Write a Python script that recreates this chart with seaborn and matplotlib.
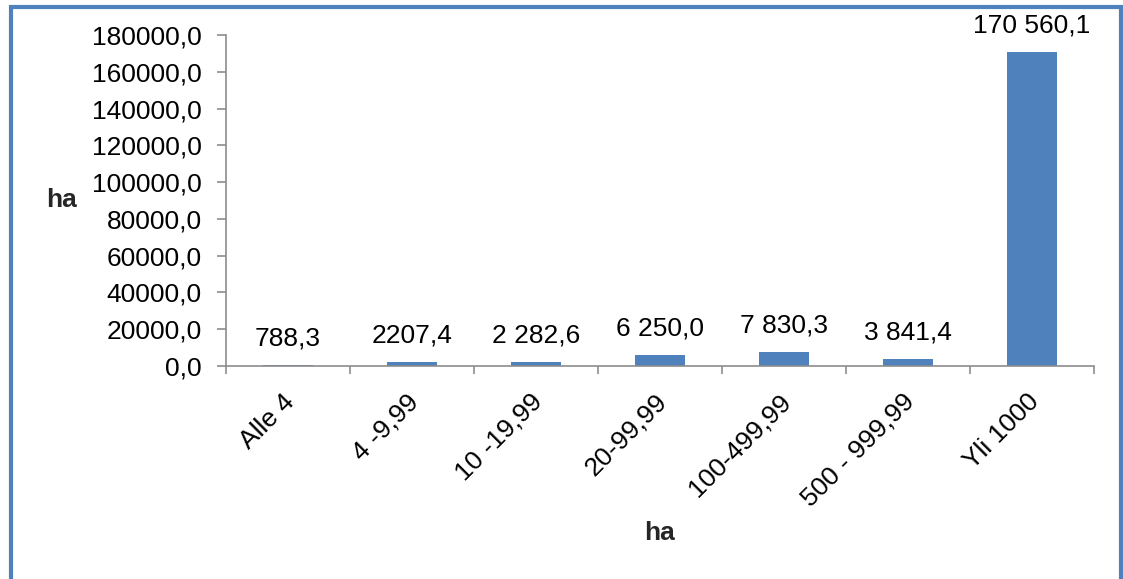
import matplotlib
matplotlib.use("Agg")
import matplotlib.pyplot as plt
import matplotlib.transforms as mtransforms
import seaborn as sns
import pandas as pd
from matplotlib.patches import Rectangle
from matplotlib.ticker import FuncFormatter, FixedLocator

# Data
categories = ["Alle 4", "4 -9,99", "10 -19,99", "20-99,99", "100-499,99", "500 - 999,99", "Yli 1000"]
values = [788.3, 2207.4, 2282.6, 6250.0, 7830.3, 3841.4, 170560.1]
value_labels = ["788,3", "2207,4", "2 282,6", "6 250,0", "7 830,3", "3 841,4", "170 560,1"]
y_ticks = [0, 20000, 40000, 60000, 80000, 100000, 120000, 140000, 160000, 180000]

df = pd.DataFrame({"luokka": categories, "ala": values})

sns.set_style("white")
plt.rcParams["font.family"] = ["Liberation Sans", "DejaVu Sans"]
plt.rcParams["text.color"] = "black"
plt.rcParams["xtick.labelcolor"] = "black"
plt.rcParams["ytick.labelcolor"] = "black"

FS = 19

fig = plt.figure(figsize=(11.23, 5.79), dpi=100)
ax = fig.add_axes([226 / 1123, 1 - 366 / 579, (1094 - 226) / 1123, (366 - 35) / 579])

sns.barplot(data=df, x="luokka", y="ala", color="#4F81BD", saturation=1, width=0.4,
            linewidth=0, ax=ax)

# value labels above bars
for i, (v, lab) in enumerate(zip(values, value_labels)):
    ax.annotate(lab, (i, v), xytext=(0, 19), textcoords="offset points",
                ha="center", va="center", fontsize=FS, color="black")

ax.set_xlim(-0.5, len(categories) - 0.5)
ax.set_ylim(0, 180000)
ax.set_yticks(y_ticks)
ax.yaxis.set_major_formatter(FuncFormatter(lambda v, p: f"{v:.1f}".replace(".", ",")))

# ticks at category boundaries on x
ax.xaxis.set_minor_locator(FixedLocator([i - 0.5 for i in range(len(categories) + 1)]))
ax.tick_params(axis="x", which="major", length=0, pad=23, labelsize=FS)
ax.tick_params(axis="x", which="minor", length=5.5, width=1.2, color="#8C8C8C", direction="out", bottom=True)
ax.tick_params(axis="y", length=6.5, width=1.2, color="#8C8C8C", direction="out", left=True, labelsize=FS, pad=11)
shift = mtransforms.ScaledTranslation(3 / 100, 0, fig.dpi_scale_trans)
for lbl in ax.get_xticklabels():
    lbl.set_rotation(45)
    lbl.set_ha("right")
    lbl.set_va("center")
    lbl.set_rotation_mode("anchor")
    lbl.set_transform(lbl.get_transform() + shift)

for side in ["top", "right"]:
    ax.spines[side].set_visible(False)
for side in ["left", "bottom"]:
    ax.spines[side].set_color("#8C8C8C")
    ax.spines[side].set_linewidth(1.2)

ax.set_xlabel("ha", fontsize=FS, fontweight="bold")
ax.set_ylabel("ha", fontsize=FS, fontweight="bold", rotation=0)
ax.xaxis.set_label_coords((660 - 226) / 868, (366 - 533) / 331)
ax.yaxis.set_label_coords((62 - 226) / 868, (366 - 200) / 331)
ax.yaxis.label.set_va("center")
ax.xaxis.label.set_va("center")

# blue chart frame
fig.patches.append(Rectangle((10.5 / 1123, -0.1), (1120.5 - 10.5) / 1123, 1.1 - 7 / 579,
                             transform=fig.transFigure, fill=False,
                             edgecolor="#4F81BD", linewidth=3, figure=fig))

fig.savefig("out.png", dpi=100)
